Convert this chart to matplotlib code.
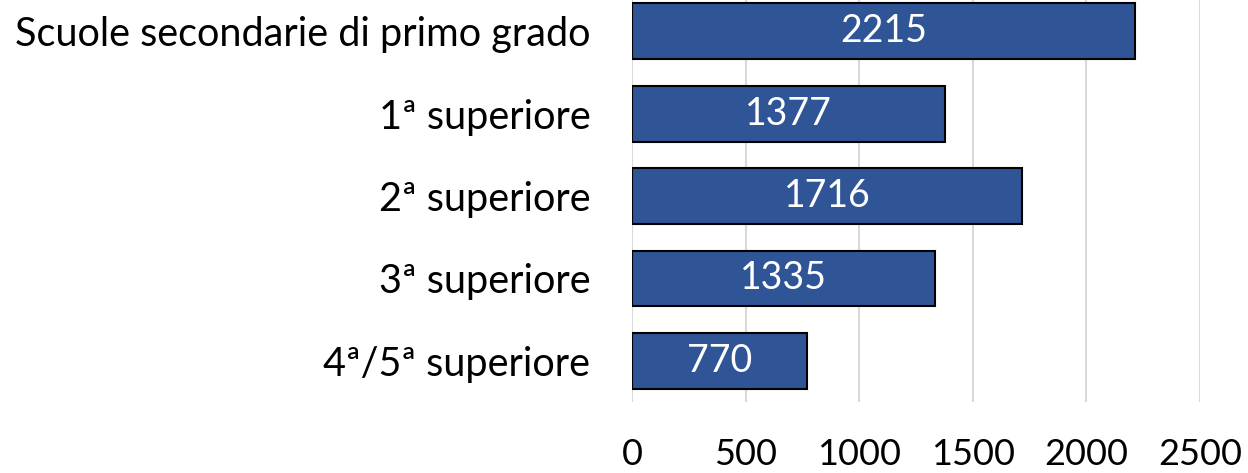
import matplotlib.pyplot as plt

categories = ['Scuole secondarie di primo grado', '1ª superiore', '2ª superiore',
              '3ª superiore', '4ª/5ª superiore']
values = [2215, 1377, 1716, 1335, 770]
xticks = [0, 500, 1000, 1500, 2000, 2500]

plt.rcParams['font.family'] = ['Lato', 'DejaVu Sans']

fig = plt.figure(figsize=(12.48, 4.73), dpi=100)
ax = fig.add_axes([0.5064, 0.150, 0.4551, 0.871])

bars = ax.barh(range(len(categories)), values, height=0.676,
               color='#2F5597', edgecolor='black', linewidth=1.5, zorder=3)
for b, v in zip(bars, values):
    ax.text(b.get_width() / 2, b.get_y() + b.get_height() / 2, str(v),
            ha='center', va='center', color='white', fontsize=27, zorder=4)

ax.set_xlim(0, 2500)
ax.set_ylim(len(categories) - 0.5, -0.5)
ax.set_xticks(xticks)
ax.set_yticks(range(len(categories)))
ax.set_yticklabels(categories)
ax.tick_params(axis='x', length=0, pad=26, labelsize=26)
ax.tick_params(axis='y', length=0, pad=30, labelsize=28.5)
ax.grid(axis='x', color='#D9D9D9', linewidth=1.5, zorder=0)
for s in ax.spines.values():
    s.set_visible(False)

fig.savefig('out.png', dpi=100)
